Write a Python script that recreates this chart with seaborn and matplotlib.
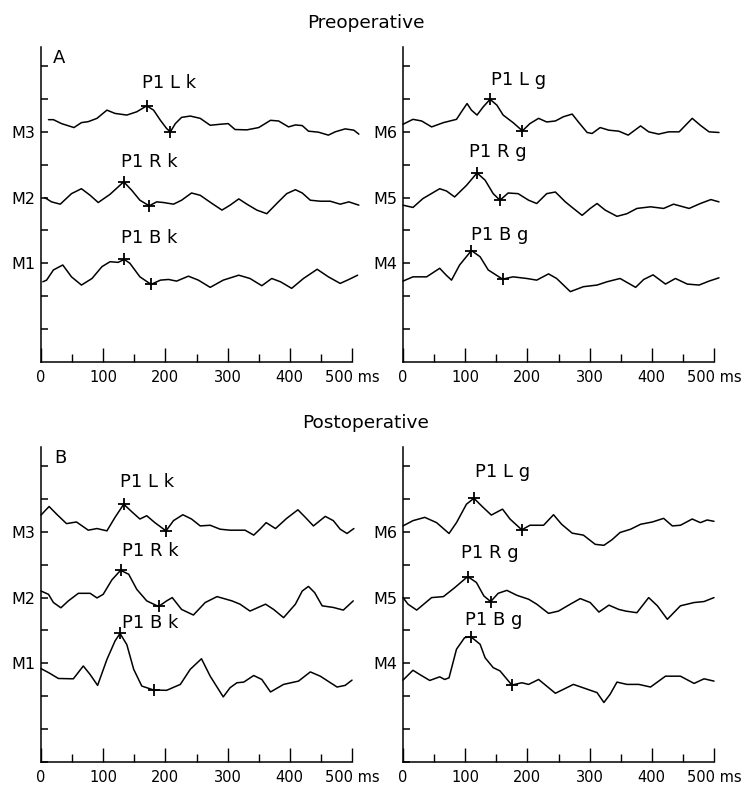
import matplotlib
matplotlib.use("Agg")
import matplotlib.pyplot as plt
import seaborn as sns
import pandas as pd

# ---- panel A (preoperative), left column: k ----
pre_m3_ms = [12, 20, 33, 53, 65, 76, 90, 106, 119, 138, 154, 170, 181, 192, 202, 208, 216, 226, 240, 256, 272, 288,
             301, 312, 331, 350, 369, 382, 398, 409, 420, 430, 446, 462, 473, 489, 503, 511]
pre_m3_amp = [0.37, 0.37, 0.25, 0.13, 0.28, 0.31, 0.41, 0.66, 0.56, 0.51, 0.61, 0.79, 0.66, 0.35, 0.10, 0.0, 0.25,
              0.44, 0.48, 0.41, 0.20, 0.23, 0.25, 0.07, 0.06, 0.13, 0.35, 0.33, 0.15, 0.21, 0.19, 0.02, -0.01, -0.10,
              0.0, 0.09, 0.05, -0.07]
pre_m2_ms = [6, 17, 31, 49, 65, 79, 92, 111, 133, 146, 159, 174, 186, 197, 213, 226, 242, 256, 275, 291, 304, 318,
             331, 347, 363, 379, 395, 409, 420, 433, 449, 465, 481, 495, 511]
pre_m2_amp = [0.0, -0.13, -0.20, 0.12, 0.27, 0.07, -0.15, 0.10, 0.48, 0.22, -0.08, -0.25, -0.13, -0.15, -0.20, -0.08,
              0.14, 0.07, -0.18, -0.38, -0.23, -0.04, -0.20, -0.38, -0.49, -0.18, 0.12, 0.24, 0.14, -0.08, -0.11,
              -0.11, -0.20, -0.13, -0.23]
pre_m1_ms = [3, 9, 20, 35, 49, 65, 82, 98, 111, 124, 134, 143, 159, 177, 192, 205, 218, 237, 253, 272, 293, 318,
             336, 355, 371, 385, 403, 422, 444, 462, 481, 495, 509]
pre_m1_amp = [-0.56, -0.51, -0.20, -0.05, -0.41, -0.66, -0.46, -0.10, 0.05, 0.03, 0.12, 0.0, -0.41, -0.64, -0.51,
              -0.49, -0.54, -0.39, -0.51, -0.73, -0.51, -0.36, -0.46, -0.68, -0.46, -0.56, -0.76, -0.46, -0.18,
              -0.41, -0.61, -0.49, -0.36]

# ---- panel A, right column: g ----
pre_m6_ms = [0, 16, 30, 46, 65, 86, 94, 103, 110, 119, 129, 140, 151, 161, 177, 192, 204, 218, 231, 245, 258, 272,
             282, 296, 304, 317, 331, 347, 362, 382, 395, 411, 427, 444, 465, 478, 492, 508]
pre_m6_amp = [0.23, 0.38, 0.33, 0.15, 0.28, 0.38, 0.61, 0.86, 0.66, 0.51, 0.76, 0.99, 0.81, 0.51, 0.28, 0.03, 0.25,
              0.41, 0.30, 0.33, 0.46, 0.54, 0.30, -0.02, -0.05, 0.13, 0.05, 0.02, -0.10, 0.18, 0.0, -0.07, 0.0, 0.0,
              0.41, 0.20, 0.0, -0.02]
pre_m5_ms = [0, 16, 32, 59, 70, 83, 102, 119, 132, 145, 156, 169, 185, 202, 215, 231, 245, 261, 274, 288, 301, 312,
             325, 344, 360, 376, 398, 419, 435, 460, 478, 495, 508]
pre_m5_amp = [-0.23, -0.30, -0.03, 0.27, 0.20, 0.02, 0.37, 0.75, 0.53, 0.12, -0.08, 0.14, 0.12, -0.08, -0.18, 0.12,
              0.17, -0.13, -0.33, -0.54, -0.33, -0.18, -0.38, -0.57, -0.49, -0.33, -0.28, -0.33, -0.20, -0.33,
              -0.18, -0.06, -0.13]
pre_m4_ms = [0, 16, 38, 59, 69, 78, 91, 110, 124, 137, 160, 177, 199, 215, 234, 247, 269, 290, 312, 328, 349, 374,
             387, 402, 422, 438, 457, 476, 492, 508]
pre_m4_amp = [-0.54, -0.41, -0.41, -0.15, -0.35, -0.51, -0.05, 0.39, 0.20, -0.20, -0.48, -0.41, -0.46, -0.51, -0.32,
              -0.46, -0.86, -0.71, -0.66, -0.56, -0.46, -0.73, -0.49, -0.35, -0.63, -0.46, -0.63, -0.66, -0.54,
              -0.44]

# ---- panel B (postoperative), left column: k ----
post_m3_ms = [0, 13, 25, 41, 57, 76, 90, 106, 119, 133, 146, 159, 170, 183, 201, 213, 228, 242, 256, 272, 288, 304,
              328, 342, 352, 362, 377, 395, 413, 425, 438, 457, 470, 481, 492, 503]
post_m3_amp = [0.51, 0.77, 0.54, 0.25, 0.30, 0.05, 0.10, 0.03, 0.44, 0.84, 0.61, 0.39, 0.49, 0.28, 0.03, 0.34, 0.52,
               0.39, 0.18, 0.20, 0.08, 0.05, 0.05, -0.10, 0.08, 0.28, 0.10, 0.41, 0.67, 0.44, 0.18, 0.47, 0.34,
               0.08, -0.05, 0.10]
post_m2_ms = [0, 12, 20, 32, 44, 60, 79, 90, 100, 114, 128, 141, 154, 170, 189, 202, 211, 226, 245, 264, 283, 307,
              320, 336, 361, 374, 390, 409, 420, 430, 440, 452, 470, 486, 502]
post_m2_amp = [0.20, 0.10, -0.15, -0.31, -0.10, 0.13, 0.13, -0.01, 0.10, 0.54, 0.83, 0.71, 0.25, -0.10, -0.27, -0.10,
               0.0, -0.36, -0.53, -0.15, 0.03, -0.10, -0.20, -0.41, -0.20, -0.36, -0.61, -0.20, 0.20, 0.34, 0.15,
               -0.25, -0.30, -0.38, -0.10]
post_m1_ms = [0, 12, 28, 52, 68, 79, 91, 106, 119, 127, 138, 149, 162, 181, 202, 224, 240, 258, 272, 293, 304, 315,
              326, 342, 355, 369, 390, 414, 433, 449, 476, 489, 500]
post_m1_amp = [-0.16, -0.28, -0.46, -0.47, -0.08, -0.34, -0.67, 0.12, 0.68, 0.91, 0.57, -0.18, -0.69, -0.81, -0.82,
               -0.64, -0.18, 0.14, -0.39, -1.02, -0.74, -0.59, -0.57, -0.37, -0.49, -0.87, -0.64, -0.54, -0.26,
               -0.39, -0.72, -0.67, -0.51]

# ---- panel B, right column: g ----
post_m6_ms = [0, 16, 35, 54, 74, 86, 102, 114, 129, 142, 160, 172, 191, 204, 226, 242, 255, 272, 290, 309, 323, 336,
              349, 366, 382, 401, 419, 433, 446, 465, 478, 489, 500]
post_m6_amp = [0.18, 0.34, 0.44, 0.28, -0.05, 0.28, 0.84, 1.02, 0.74, 0.51, 0.69, 0.39, 0.06, 0.20, 0.20, 0.52, 0.23,
               -0.04, -0.10, -0.38, -0.41, -0.24, -0.02, 0.08, 0.23, 0.30, 0.41, 0.18, 0.20, 0.39, 0.28, 0.36, 0.32]
post_m5_ms = [0, 8, 22, 46, 65, 83, 104, 118, 130, 141, 153, 167, 183, 202, 215, 234, 250, 269, 285, 301, 315, 331,
              347, 358, 376, 395, 409, 425, 446, 468, 484, 500]
post_m5_amp = [0.0, -0.20, -0.38, 0.0, 0.03, 0.30, 0.64, 0.46, 0.05, -0.12, 0.13, 0.22, 0.07, -0.05, -0.20, -0.48,
               -0.41, -0.20, -0.03, -0.15, -0.44, -0.23, -0.36, -0.41, -0.46, 0.0, -0.25, -0.66, -0.25, -0.15, -0.12,
               0.0]
post_m4_ms = [0, 16, 27, 43, 59, 67, 74, 86, 99, 109, 124, 132, 145, 156, 175, 191, 202, 218, 245, 274, 312, 323,
              333, 344, 360, 379, 398, 422, 446, 468, 484, 500]
post_m4_amp = [-0.51, -0.21, -0.34, -0.52, -0.41, -0.49, -0.44, 0.43, 0.78, 0.81, 0.58, 0.17, -0.13, -0.23, -0.66,
               -0.59, -0.64, -0.49, -0.91, -0.64, -0.89, -1.19, -0.94, -0.57, -0.64, -0.64, -0.72, -0.39, -0.39,
               -0.61, -0.47, -0.54]

# P1 peak and following trough, marked with "+"
pre_m3_marks = [(170, 0.79), (208, 0.0)]
pre_m2_marks = [(133, 0.48), (174, -0.25)]
pre_m1_marks = [(134, 0.12), (177, -0.64)]
pre_m6_marks = [(140, 0.99), (192, 0.03)]
pre_m5_marks = [(119, 0.75), (156, -0.08)]
pre_m4_marks = [(110, 0.39), (160, -0.48)]
post_m3_marks = [(133, 0.84), (201, 0.03)]
post_m2_marks = [(128, 0.83), (189, -0.27)]
post_m1_marks = [(127, 0.91), (181, -0.81)]
post_m6_marks = [(114, 1.02), (191, 0.06)]
post_m5_marks = [(104, 0.64), (141, -0.12)]
post_m4_marks = [(109, 0.81), (175, -0.66)]

# trace labels: text, x (ms), height above trace baseline
pre_k_labels = [("P1 L k", 206, 1.47), ("P1 R k", 174, 1.08), ("P1 B k", 174, 0.76)]
pre_g_labels = [("P1 L g", 185, 1.57), ("P1 R g", 153, 1.39), ("P1 B g", 155, 0.86)]
post_k_labels = [("P1 L k", 171, 1.52), ("P1 R k", 175, 1.42), ("P1 B k", 175, 1.24)]
post_g_labels = [("P1 L g", 160, 1.81), ("P1 R g", 139, 1.37), ("P1 B g", 146, 1.32)]

baselines = [7, 5, 3]
left_names = ["M1", "M2", "M3"]
right_names = ["M4", "M5", "M6"]
xtick_labels = ["0", "100", "200", "300", "400", "500 ms"]

sns.set_style("ticks", {"axes.edgecolor": "black", "text.color": "black",
                        "xtick.color": "black", "ytick.color": "black"})
plt.rcParams["font.family"] = ["DejaVu Sans"]

fig = plt.figure(figsize=(7.46, 7.85), dpi=100)
W, H = 746, 785


def make_axes(left_px, top_px):
    # 500 ms spans 311 px; axes run to 515 ms so the traces can overhang the axis end
    return fig.add_axes([left_px / W, 1 - (top_px + 315) / H, 515 * 0.622 / W, 315 / H])


panels = [
    (make_axes(41, 47), [(pre_m3_ms, pre_m3_amp, pre_m3_marks), (pre_m2_ms, pre_m2_amp, pre_m2_marks),
                         (pre_m1_ms, pre_m1_amp, pre_m1_marks)], pre_k_labels, left_names, False),
    (make_axes(403, 47), [(pre_m6_ms, pre_m6_amp, pre_m6_marks), (pre_m5_ms, pre_m5_amp, pre_m5_marks),
                          (pre_m4_ms, pre_m4_amp, pre_m4_marks)], pre_g_labels, right_names, False),
    (make_axes(41, 447), [(post_m3_ms, post_m3_amp, post_m3_marks), (post_m2_ms, post_m2_amp, post_m2_marks),
                          (post_m1_ms, post_m1_amp, post_m1_marks)], post_k_labels, left_names, True),
    (make_axes(403, 447), [(post_m6_ms, post_m6_amp, post_m6_marks), (post_m5_ms, post_m5_amp, post_m5_marks),
                           (post_m4_ms, post_m4_amp, post_m4_marks)], post_g_labels, right_names, True),
]

for ax, traces, labels, names, zero_tick in panels:
    for (ms, amp, marks), base, (text, lx, ly) in zip(traces, baselines, labels):
        df = pd.DataFrame({"ms": ms, "uv": [base + a for a in amp]})
        sns.lineplot(data=df, x="ms", y="uv", ax=ax, color="black", lw=1.1, estimator=None, clip_on=False,
                     solid_joinstyle="round")
        mk = pd.DataFrame({"ms": [m[0] for m in marks], "uv": [base + m[1] for m in marks]})
        sns.scatterplot(data=mk, x="ms", y="uv", ax=ax, marker="+", s=70, color="black", linewidth=1.3,
                        zorder=5, clip_on=False)
        ax.text(lx, base + ly, text, ha="center", va="center", fontsize=13, color="black")

    ax.set_xlim(0, 515)
    ax.set_ylim(0, 9.58)
    sns.despine(ax=ax)
    ax.spines["bottom"].set_bounds(0, 500)
    for sp in ("left", "bottom"):
        ax.spines[sp].set_linewidth(1.1)
        ax.spines[sp].set_color("black")

    ax.set_xticks(range(0, 501, 100))
    ax.set_xticklabels(xtick_labels, fontsize=10.5)
    ax.set_xticks(range(50, 451, 100), minor=True)
    ax.tick_params(axis="x", which="major", direction="in", length=10, width=1, pad=6, colors="black")
    ax.tick_params(axis="x", which="minor", direction="in", length=5.5, width=1, colors="black")

    yt = list(range(0 if zero_tick else 1, 10))
    ax.set_yticks(yt)
    ax.set_yticklabels([{3: names[0], 5: names[1], 7: names[2]}.get(v, "") for v in yt], fontsize=11.5)
    ax.tick_params(axis="y", direction="in", length=5, width=1.1, pad=4, colors="black")
    ax.set_xlabel("")
    ax.set_ylabel("")

fig.text(366 / W, 1 - 28 / H, "Preoperative", ha="center", va="baseline", fontsize=13.3, color="black")
fig.text(366 / W, 1 - 428 / H, "Postoperative", ha="center", va="baseline", fontsize=13.3, color="black")
fig.text(53 / W, 1 - 63 / H, "A", ha="left", va="baseline", fontsize=13, color="black")
fig.text(54 / W, 1 - 463 / H, "B", ha="left", va="baseline", fontsize=13, color="black")

fig.savefig("out.png", dpi=100)
